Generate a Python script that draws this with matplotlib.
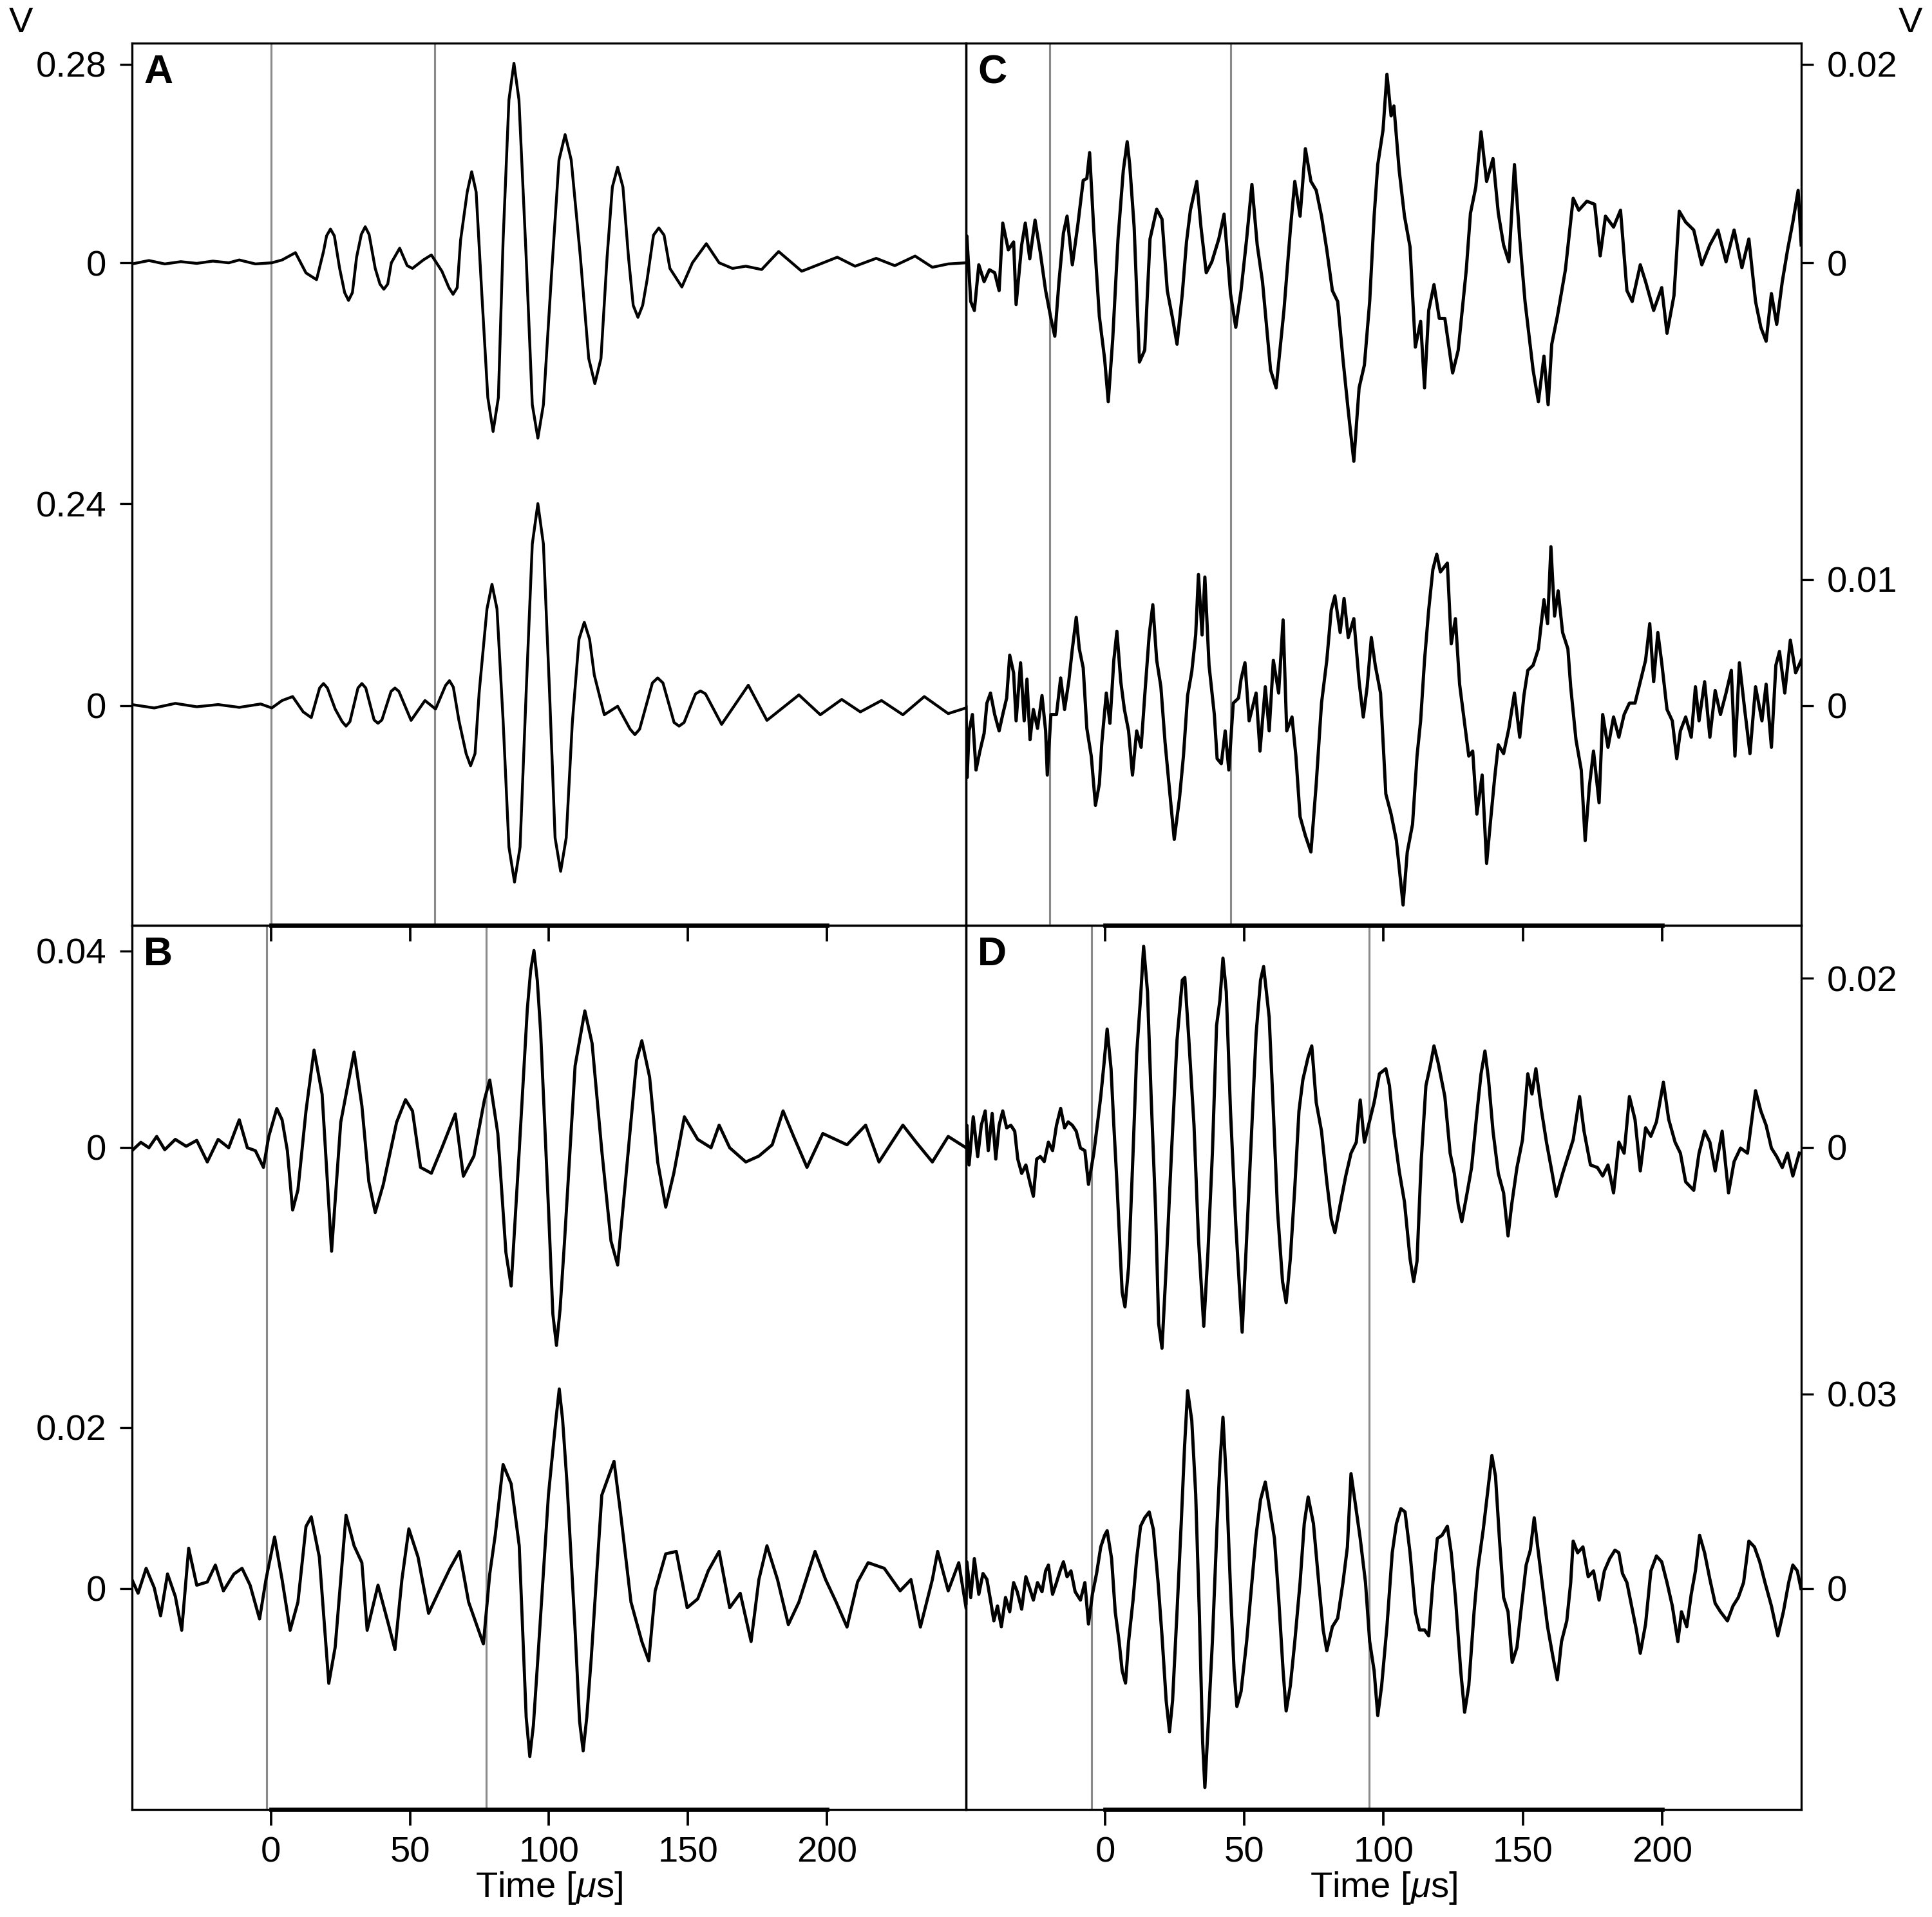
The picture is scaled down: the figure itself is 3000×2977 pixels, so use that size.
import numpy as np
import matplotlib.pyplot as plt

plt.rcParams['font.family'] = ['Liberation Sans', 'DejaVu Sans']
plt.rcParams['mathtext.fontset'] = 'custom'
plt.rcParams['mathtext.rm'] = 'Liberation Sans'
plt.rcParams['mathtext.it'] = 'Liberation Sans:italic'

# traces as (time [us], signal [V])
a_top = [(-50, -0.0016), (-43.9, 0.0032), (-38.2, -0.0016), (-32.4, 0.0016), (-26.7, -0.0008), (-20.9, 0.0024),
         (-15.2, 0.0), (-11.4, 0.004), (-5.6, -0.0016), (0.3, 0.0), (4.0, 0.004), (8.8, 0.0143), (12.6, -0.0143),
         (16.4, -0.0238), (18.9, 0.0159), (20.0, 0.038), (21.4, 0.0476), (22.8, 0.038), (24.7, -0.0079),
         (26.5, -0.042), (27.9, -0.0531), (29.3, -0.042), (30.8, 0.0079), (32.5, 0.04), (33.9, 0.0508),
         (35.3, 0.04), (37.5, -0.0079), (39.2, -0.03), (40.6, -0.0373), (42.0, -0.03), (43.3, 0.0),
         (46.3, 0.0206), (49.0, -0.004), (50.9, -0.0079), (54.8, 0.004), (57.7, 0.0111), (61.5, -0.0119),
         (64.0, -0.035), (65.5, -0.0444), (67.0, -0.035), (68.2, 0.0317), (70.6, 0.10), (72.2, 0.1285),
         (73.8, 0.10), (75.9, -0.0476), (78.0, -0.19), (79.9, -0.2379), (81.8, -0.19), (83.5, 0.0317),
         (85.6, 0.23), (87.4, 0.2815), (89.2, 0.23), (91.8, 0.0079), (94.0, -0.20), (96.0, -0.2474),
         (98.0, -0.20), (100.8, -0.0238), (103.6, 0.145), (105.8, 0.1808), (108.0, 0.145), (111.3, 0.0079),
         (114.3, -0.135), (116.5, -0.1705), (118.7, -0.135), (120.9, 0.0079), (122.8, 0.107), (124.7, 0.1348),
         (126.6, 0.107), (128.6, 0.0079), (130.3, -0.06), (132.0, -0.0769), (133.7, -0.06), (135.3, -0.0238),
         (137.6, 0.039), (139.5, 0.0492), (141.4, 0.039), (143.5, -0.0079), (147.8, -0.0341), (151.6, 0.0),
         (156.6, 0.027), (161.2, 0.0), (166.0, -0.0079), (170.8, -0.0048), (176.5, -0.0095), (182.6, 0.0159),
         (190.9, -0.0119), (197.6, -0.0016), (203.7, 0.0079), (210.1, -0.0048), (217.7, 0.0063), (224.4, -0.004),
         (231.7, 0.0095), (237.9, -0.0063), (243.6, -0.0016), (250, 0.0)]

a_bot = [(-50, 0.0013), (-42.0, -0.0027), (-34.4, 0.0027), (-26.7, -0.0013), (-19.0, 0.0013), (-11.4, -0.002),
         (-3.7, 0.002), (0.3, -0.0027), (4.0, 0.0061), (7.8, 0.0108), (11.6, -0.0074), (14.5, -0.0142),
         (17.5, 0.021), (18.9, 0.0263), (20.3, 0.021), (23.1, -0.004), (25.6, -0.019), (27.0, -0.0243),
         (28.4, -0.019), (31.3, 0.021), (32.7, 0.0263), (34.1, 0.021), (37.1, -0.017), (38.5, -0.0209),
         (39.9, -0.017), (43.2, 0.017), (44.6, 0.0209), (46.0, 0.017), (50.4, -0.0175), (55.4, 0.0061),
         (59.2, -0.004), (62.8, 0.024), (64.2, 0.0297), (65.6, 0.022), (67.6, -0.0175), (70.2, -0.057),
         (71.8, -0.0714), (73.4, -0.057), (74.9, 0.0162), (77.7, 0.115), (79.5, 0.1442), (81.3, 0.115),
         (83.5, -0.0175), (85.6, -0.168), (87.6, -0.2096), (89.6, -0.168), (91.8, 0.0162), (94.0, 0.192),
         (96.0, 0.24), (98.0, 0.192), (100.2, 0.0162), (102.2, -0.157), (104.2, -0.1968), (106.2, -0.157),
         (108.4, -0.02), (110.8, 0.079), (112.7, 0.0991), (114.6, 0.079), (116.3, 0.0364), (119.9, -0.0108),
         (124.7, -0.0007), (129.2, -0.028), (130.9, -0.0344), (132.6, -0.028), (137.2, 0.027), (139.1, 0.033),
         (141.0, 0.027), (145.0, -0.02), (146.8, -0.0243), (148.6, -0.02), (152.7, 0.014), (154.5, 0.0175),
         (156.3, 0.014), (162.1, -0.0222), (171.7, 0.0243), (178.4, -0.0175), (189.9, 0.0128), (197.6, -0.0108),
         (205.3, 0.0074), (212.0, -0.0074), (219.6, 0.0061), (227.3, -0.0108), (235.0, 0.0108), (243.6, -0.0094),
         (250, -0.0027)]

b_top = [(-50, -0.0007), (-46.8, 0.001), (-43.9, -0.0001), (-41.1, 0.0022), (-38.2, -0.0005), (-34.4, 0.0016),
         (-30.5, 0.0002), (-26.7, 0.0014), (-22.9, -0.003), (-19.0, 0.0016), (-15.2, -0.0001), (-11.4, 0.0056),
         (-8.5, -0.0001), (-5.6, -0.0007), (-2.7, -0.0041), (-0.8, 0.0022), (2.1, 0.0079), (4.0, 0.0056),
         (5.9, -0.0007), (7.8, -0.0128), (9.7, -0.0087), (12.6, 0.0074), (15.5, 0.0198), (18.4, 0.0108),
         (21.8, -0.0212), (25.1, 0.0051), (29.9, 0.0194), (32.7, 0.0085), (35.2, -0.007), (37.5, -0.0133),
         (40.4, -0.0076), (45.2, 0.0051), (48.4, 0.0097), (50.9, 0.0074), (53.8, -0.0041), (57.7, -0.0053),
         (61.5, -0.0001), (66.3, 0.0068), (69.2, -0.0059), (73.0, -0.0018), (76.8, 0.0097), (78.7, 0.0137),
         (81.6, 0.0028), (84.5, -0.0214), (86.4, -0.0283), (89.3, -0.0007), (92.2, 0.0281), (93.4, 0.036),
         (94.6, 0.0401), (95.8, 0.034), (97.0, 0.0235), (99.8, -0.0122), (101.4, -0.034), (102.7, -0.0404),
         (104.0, -0.033), (105.6, -0.0191), (109.4, 0.0166), (112.9, 0.0278), (115.5, 0.0212), (119.0, -0.0007),
         (122.3, -0.0191), (124.7, -0.024), (127.6, -0.0064), (131.5, 0.0177), (133.4, 0.0217), (136.2, 0.0143),
         (139.1, -0.003), (142.0, -0.0122), (144.9, -0.0053), (148.7, 0.0062), (153.5, 0.0016), (158.3, -0.0001),
         (161.2, 0.0045), (165.0, -0.0001), (170.8, -0.003), (175.5, -0.0018), (180.3, 0.0005), (184.2, 0.0074),
         (188.0, 0.0022), (192.8, -0.0041), (198.5, 0.0028), (207.2, 0.0005), (213.9, 0.0045), (218.7, -0.003),
         (227.3, 0.0045), (232.1, 0.001), (237.9, -0.003), (243.6, 0.0022), (250, -0.0001)]

b_bot = [(-50, 0.0011), (-47.8, -0.0006), (-44.9, 0.0025), (-42.0, 0.0001), (-39.7, -0.0034), (-37.2, 0.0018),
         (-34.4, -0.001), (-32.1, -0.0052), (-29.6, 0.005), (-26.7, 0.0004), (-22.9, 0.0008), (-20.0, 0.0029),
         (-17.1, -0.0003), (-13.3, 0.0018), (-10.4, 0.0025), (-7.5, 0.0004), (-4.1, -0.0038), (-1.8, 0.0011),
         (1.3, 0.0064), (4.0, 0.0011), (6.9, -0.0052), (9.7, -0.0017), (12.6, 0.0077), (14.5, 0.0089),
         (17.4, 0.0039), (20.8, -0.0118), (23.1, -0.0073), (27.0, 0.0091), (29.9, 0.0053), (32.7, 0.0032),
         (34.6, -0.0052), (38.5, 0.0004), (42.3, -0.0045), (44.6, -0.0076), (47.1, 0.0011), (49.6, 0.0074),
         (52.9, 0.0039), (56.7, -0.0031), (60.5, -0.0003), (64.4, 0.0025), (67.8, 0.0046), (71.1, -0.0017),
         (76.4, -0.0069), (78.7, 0.0018), (80.7, 0.0067), (83.5, 0.0154), (86.4, 0.013), (89.3, 0.0053),
         (91.8, -0.016), (93.1, -0.0209), (94.4, -0.017), (96.0, -0.0087), (99.8, 0.0116), (102.5, 0.021),
         (103.7, 0.0248), (104.9, 0.021), (106.5, 0.013), (109.4, -0.0052), (111.0, -0.0165), (112.3, -0.0202),
         (113.6, -0.016), (115.2, -0.0087), (119.0, 0.0116), (123.4, 0.0158), (125.7, 0.0095), (129.5, -0.0017),
         (133.4, -0.0066), (135.9, -0.009), (138.2, -0.0003), (142.0, 0.0043), (145.8, 0.0046), (149.7, -0.0024),
         (153.5, -0.0013), (157.3, 0.0022), (161.2, 0.0046), (165.0, -0.0024), (168.8, -0.0006), (172.7, -0.0066),
         (175.5, 0.0011), (178.4, 0.0053), (182.2, 0.0011), (186.1, -0.0045), (189.9, -0.0017), (195.7, 0.0046),
         (199.5, 0.0011), (203.3, -0.0017), (207.2, -0.0048), (211.0, 0.0008), (214.8, 0.0032), (220.6, 0.0025),
         (226.3, -0.0003), (230.2, 0.0011), (233.6, -0.0048), (237.9, 0.0011), (239.8, 0.0046), (243.6, -0.0003),
         (247.4, 0.0032), (250, -0.0024)]

c_top = [(-50, 0.0001), (-49.7, 0.0027), (-48.3, -0.0039), (-47.0, -0.0048), (-45.4, -0.0002), (-43.5, -0.0019),
         (-41.6, -0.0007), (-39.7, -0.001), (-38.1, -0.0028), (-36.8, 0.004), (-34.8, 0.0013), (-32.9, 0.0021),
         (-32.0, -0.0042), (-30.0, 0.0018), (-28.7, 0.004), (-27.1, 0.0004), (-25.2, 0.0043), (-23.3, 0.001),
         (-21.4, -0.0028), (-19.5, -0.0056), (-18.1, -0.0074), (-16.6, -0.0019), (-15.0, 0.003), (-13.7, 0.0047),
         (-11.8, -0.0002), (-9.8, 0.0039), (-7.9, 0.0083), (-6.6, 0.0085), (-5.6, 0.0111), (-4.1, 0.0033),
         (-2.1, -0.0054), (-0.2, -0.0097), (1.1, -0.014), (2.7, -0.0077), (4.6, 0.0024), (6.5, 0.0093),
         (7.9, 0.0122), (8.8, 0.0099), (10.4, 0.0036), (12.3, -0.01), (14.2, -0.0088), (16.1, 0.0024),
         (18.5, 0.0054), (20.4, 0.0044), (22.3, -0.0028), (24.2, -0.0056), (25.8, -0.0082), (27.7, -0.0031),
         (29.2, 0.0021), (30.6, 0.0053), (32.9, 0.0082), (34.4, 0.0036), (36.3, -0.001), (38.3, 0.0001),
         (40.8, 0.0024), (42.7, 0.0049), (45.0, -0.0031), (46.9, -0.0065), (48.8, -0.0028), (50.8, 0.0024),
         (52.7, 0.0079), (54.6, 0.0018), (56.5, -0.0019), (59.4, -0.0108), (61.4, -0.0126), (64.2, -0.0048),
         (66.5, 0.0033), (68.1, 0.0082), (70.0, 0.0047), (71.9, 0.0115), (73.9, 0.0082), (75.8, 0.0073),
         (77.7, 0.0047), (79.6, 0.0013), (81.6, -0.0028), (83.5, -0.0039), (85.4, -0.0097), (87.3, -0.0149),
         (89.3, -0.02), (91.2, -0.0126), (93.1, -0.0103), (95.0, -0.0039), (96.6, 0.0047), (97.9, 0.0099),
         (99.8, 0.0134), (101.2, 0.019), (102.7, 0.0148), (103.7, 0.0158), (105.6, 0.0093), (107.5, 0.0047),
         (109.5, 0.0016), (111.4, -0.0085), (113.3, -0.0059), (114.7, -0.0126), (116.2, -0.0048), (118.1, -0.0022),
         (120.0, -0.0056), (122.0, -0.0056), (124.8, -0.0111), (126.8, -0.0088), (129.7, -0.0007), (131.2, 0.005),
         (133.1, 0.0076), (135.0, 0.0132), (137.0, 0.0082), (139.3, 0.0105), (141.2, 0.005), (143.1, 0.0018),
         (145.0, 0.0001), (147.0, 0.0099), (148.9, 0.0024), (150.8, -0.0039), (153.7, -0.0108), (155.6, -0.014),
         (157.6, -0.0094), (159.1, -0.0143), (160.4, -0.0082), (162.4, -0.0054), (165.3, -0.0007), (168.1, 0.0065),
         (170.1, 0.0053), (173.0, 0.0062), (175.8, 0.0059), (177.8, 0.0007), (179.7, 0.0047), (182.6, 0.0036),
         (185.1, 0.0053), (187.4, -0.0028), (189.3, -0.0039), (192.2, -0.0002), (194.1, -0.0019), (197.0, -0.0048),
         (199.9, -0.0025), (201.8, -0.0071), (204.3, -0.0033), (206.2, 0.0052), (208.5, 0.0041), (211.4, 0.0033),
         (214.3, -0.0002), (217.2, 0.0018), (220.1, 0.0033), (223.0, 0.0001), (225.9, 0.0033), (228.7, -0.0005),
         (231.2, 0.0024), (233.6, -0.0039), (235.5, -0.0065), (237.4, -0.0079), (239.3, -0.0031), (241.2, -0.0062),
         (243.2, -0.0019), (245.1, 0.0013), (247.0, 0.0041), (248.9, 0.0073), (250, 0.0018)]

c_bot = [(-50, -0.0001), (-49.6, -0.0057), (-48.9, -0.002), (-47.7, -0.0007), (-46.4, -0.0051), (-45.0, -0.0036),
         (-43.5, -0.0022), (-42.5, 0.0002), (-41.2, 0.001), (-39.7, -0.0007), (-38.1, -0.002), (-36.8, -0.0007),
         (-35.4, 0.0006), (-34.3, 0.004), (-32.9, 0.0026), (-32.0, -0.0012), (-30.4, 0.0034), (-29.1, -0.0012),
         (-28.1, 0.0021), (-27.0, -0.0027), (-25.8, -0.0003), (-24.3, -0.0018), (-22.7, 0.0008), (-21.4, -0.002),
         (-20.8, -0.0055), (-19.5, -0.0007), (-17.5, -0.0007), (-16.0, 0.0022), (-14.6, -0.0003), (-13.1, 0.0019),
         (-11.8, 0.0045), (-10.4, 0.007), (-9.3, 0.0045), (-7.9, 0.003), (-6.6, -0.0018), (-5.0, -0.004),
         (-3.5, -0.0079), (-2.1, -0.0062), (-1.2, -0.0029), (0.4, 0.001), (1.7, -0.0014), (3.1, 0.0036),
         (4.2, 0.0059), (5.6, 0.0019), (6.9, -0.0003), (8.4, -0.002), (9.8, -0.0055), (11.3, -0.002),
         (12.9, -0.0033), (14.2, 0.0008), (15.8, 0.0056), (17.1, 0.008), (18.5, 0.0036), (20.0, 0.0015),
         (21.5, -0.0029), (22.9, -0.0062), (24.8, -0.0106), (26.7, -0.0073), (28.1, -0.004), (29.6, 0.0008),
         (31.1, 0.0027), (32.5, 0.0056), (33.5, 0.0104), (34.8, 0.0056), (35.8, 0.0102), (37.3, 0.0032),
         (39.2, -0.0007), (40.2, -0.0042), (41.7, -0.0046), (43.1, -0.002), (44.4, -0.0051), (46.0, 0.0002),
         (47.9, 0.0006), (48.8, 0.0021), (50.2, 0.0034), (51.7, -0.0012), (54.2, 0.001), (55.6, -0.0036),
         (57.5, 0.0015), (58.9, -0.002), (60.4, 0.0036), (62.3, 0.001), (63.9, 0.0068), (65.2, -0.002),
         (67.1, -0.0009), (68.5, -0.004), (70.0, -0.0088), (71.9, -0.0103), (73.9, -0.0116), (75.8, -0.0062),
         (77.7, 0.0002), (79.6, 0.0036), (81.2, 0.0076), (82.5, 0.0087), (84.4, 0.0058), (85.8, 0.0085),
         (87.3, 0.0054), (89.3, 0.0069), (91.2, 0.0019), (92.7, -0.0009), (94.1, 0.0015), (95.6, 0.0054),
         (97.0, 0.0032), (98.9, 0.001), (100.8, -0.007), (102.7, -0.0086), (104.6, -0.0107), (107.0, -0.0158),
         (108.5, -0.0116), (110.4, -0.0094), (112.0, -0.004), (113.3, -0.0012), (114.7, 0.0036), (116.2, 0.0076),
         (117.7, 0.0108), (119.1, 0.012), (120.4, 0.0106), (122.9, 0.0113), (124.3, 0.0049), (125.8, 0.0069),
         (127.3, 0.0017), (128.7, -0.0007), (130.6, -0.004), (132.0, -0.0036), (133.5, -0.0086), (135.4, -0.0055),
         (137.0, -0.0125), (138.3, -0.0094), (139.9, -0.0057), (141.2, -0.0031), (143.1, -0.0038), (145.0, -0.0018),
         (147.0, 0.001), (148.9, -0.0025), (150.4, 0.0008), (151.8, 0.0028), (153.7, 0.0032), (155.6, 0.0045),
         (157.6, 0.0084), (158.9, 0.0065), (160.1, 0.0126), (161.4, 0.0071), (162.7, 0.0091), (164.3, 0.0058),
         (166.2, 0.0045), (167.2, 0.0015), (169.1, -0.0027), (171.0, -0.0051), (172.4, -0.0107), (173.9, -0.0064),
         (175.4, -0.0036), (177.4, -0.0077), (178.7, -0.0007), (180.6, -0.0033), (182.6, -0.0009), (184.5, -0.0025),
         (186.4, -0.0007), (188.3, 0.0002), (190.3, 0.0002), (192.2, 0.0019), (194.1, 0.0036), (195.6, 0.0065),
         (197.0, 0.0019), (198.5, 0.0058), (199.9, 0.0034), (201.8, -0.0003), (203.7, -0.0012), (205.3, -0.0042),
         (206.6, -0.002), (208.5, -0.0009), (210.5, -0.0025), (212.0, 0.0015), (213.3, -0.0012), (215.3, 0.0019),
         (217.2, -0.0025), (219.1, 0.0012), (221.0, -0.0007), (223.0, 0.001), (224.9, 0.0028), (226.2, -0.004),
         (227.8, 0.0034), (229.7, -0.0003), (231.6, -0.0038), (233.6, 0.0015), (235.9, -0.0012), (237.4, 0.0017),
         (239.3, -0.0033), (240.9, 0.0032), (242.2, 0.0043), (244.1, 0.001), (246.1, 0.0052), (248.0, 0.0026),
         (250, 0.0036)]

d_top = [(-50, 0.0003), (-49.7, 0.0026), (-48.9, -0.0021), (-47.4, 0.0036), (-45.8, -0.0011), (-44.5, 0.0026),
         (-43.1, 0.0043), (-42.0, -0.0004), (-40.6, 0.004), (-39.3, -0.0014), (-38.1, 0.0026), (-36.8, 0.0043),
         (-35.4, 0.0023), (-33.9, 0.0026), (-32.5, 0.0019), (-31.4, -0.0014), (-30.0, -0.0031), (-28.5, -0.0021),
         (-27.1, -0.0041), (-25.8, -0.0058), (-24.6, -0.0014), (-23.3, -0.0011), (-21.9, -0.0017), (-20.4, 0.0006),
         (-18.9, -0.0004), (-17.5, 0.0026), (-16.0, 0.0046), (-14.6, 0.0023), (-13.3, 0.003), (-11.8, 0.0026),
         (-10.4, 0.0019), (-8.9, -0.0001), (-7.3, -0.0004), (-6.0, -0.0044), (-4.1, -0.0007), (-2.7, 0.003),
         (-1.6, 0.006), (-0.4, 0.01), (0.7, 0.014), (2.1, 0.0093), (3.1, 0.0026), (4.2, -0.0041), (5.4, -0.0125),
         (6.1, -0.0172), (7.1, -0.0189), (8.4, -0.0142), (10.0, -0.0007), (11.3, 0.011), (12.7, 0.0177),
         (13.8, 0.0238), (15.2, 0.0184), (16.5, 0.006), (18.1, -0.0075), (19.2, -0.0209), (20.4, -0.0238),
         (21.9, -0.0142), (23.8, -0.0007), (25.8, 0.0127), (27.7, 0.0198), (28.6, 0.0201), (30.0, 0.013),
         (31.9, 0.0026), (33.5, -0.0108), (35.4, -0.0212), (36.9, -0.0125), (38.5, -0.0007), (40.0, 0.0144),
         (41.2, 0.0174), (42.3, 0.0224), (43.5, 0.0184), (45.0, 0.0043), (46.9, -0.0091), (48.1, -0.0159),
         (49.2, -0.0219), (50.8, -0.0108), (52.7, 0.0026), (54.2, 0.0134), (55.8, 0.0198), (56.9, 0.0214),
         (58.9, 0.0154), (60.4, 0.0043), (61.9, -0.0075), (63.7, -0.0159), (65.0, -0.0184), (66.5, -0.0132),
         (68.1, -0.0048), (69.6, 0.0043), (71.0, 0.008), (72.9, 0.0107), (74.2, 0.012), (75.8, 0.0053),
         (77.7, 0.0019), (79.6, -0.0041), (81.2, -0.0085), (82.5, -0.0101), (84.4, -0.0068), (86.4, -0.0034),
         (88.3, -0.0007), (90.2, 0.0006), (91.6, 0.0056), (93.1, 0.0006), (94.6, 0.0026), (96.6, 0.0053),
         (98.5, 0.0087), (100.8, 0.0093), (102.1, 0.0073), (103.7, 0.0019), (105.6, -0.0028), (107.5, -0.0065),
         (109.5, -0.0132), (110.8, -0.0159), (112.0, -0.0135), (113.5, -0.0017), (115.2, 0.0073), (116.8, 0.0097),
         (118.1, 0.012), (119.6, 0.01), (122.0, 0.006), (123.9, -0.0007), (125.4, -0.0031), (126.8, -0.0068),
         (128.1, -0.0088), (130.0, -0.0054), (131.6, -0.0024), (133.5, 0.004), (135.0, 0.0087), (136.4, 0.0114),
         (137.7, 0.008), (139.3, 0.0019), (141.2, -0.0031), (143.1, -0.0054), (144.7, -0.0105), (146.0, -0.0068),
         (147.9, -0.0024), (149.9, 0.0009), (151.8, 0.0087), (153.3, 0.0063), (154.7, 0.0093), (156.6, 0.0046),
         (158.5, 0.0006), (160.4, -0.0028), (162.0, -0.0058), (164.3, -0.0031), (166.2, -0.0011), (168.1, 0.0009),
         (170.4, 0.006), (172.0, 0.0019), (174.3, -0.0021), (176.8, -0.0024), (178.7, -0.0034), (180.6, -0.0021),
         (182.6, -0.0054), (184.5, 0.0006), (186.4, -0.0007), (188.3, 0.006), (190.3, 0.0033), (192.2, -0.0028),
         (194.1, 0.0023), (196.0, 0.0013), (198.0, 0.003), (200.5, 0.0077), (202.4, 0.0033), (204.7, 0.0006),
         (206.6, -0.0007), (208.5, -0.0041), (211.4, -0.0051), (213.3, -0.0007), (215.3, 0.0019), (217.2, 0.0006),
         (219.1, -0.0028), (221.6, 0.0019), (223.9, -0.0054), (225.9, -0.0017), (228.2, -0.0001), (230.7, -0.0007),
         (233.6, 0.0067), (235.5, 0.0043), (237.4, 0.0026), (239.3, -0.0001), (241.2, -0.0011), (243.2, -0.0024),
         (245.1, -0.0007), (247.0, -0.0034), (249.3, -0.0007)]

d_bot = [(-50, -0.0023), (-49.7, 0.0041), (-48.3, -0.0014), (-47.0, 0.0046), (-45.4, -0.0009), (-43.9, 0.0023),
         (-42.5, 0.0014), (-41.2, -0.0018), (-40.0, -0.005), (-38.7, -0.0027), (-37.3, -0.0059), (-35.8, -0.0014),
         (-34.3, -0.0036), (-32.9, 0.0009), (-31.6, -0.0005), (-30.0, -0.0032), (-28.5, 0.0018), (-27.1, 0.0),
         (-25.8, -0.0018), (-24.3, 0.0009), (-22.7, -0.0005), (-21.4, 0.0027), (-20.4, 0.0036), (-18.9, -0.0009),
         (-17.5, 0.0009), (-16.2, 0.0027), (-15.0, 0.0041), (-13.7, 0.0018), (-12.3, 0.0027), (-10.8, -0.0005),
         (-8.9, -0.0018), (-7.3, 0.0009), (-6.0, -0.0055), (-4.6, -0.0009), (-3.1, 0.0023), (-1.6, 0.0064),
         (-0.2, 0.0082), (0.7, 0.0089), (2.3, 0.0046), (3.6, -0.0036), (5.0, -0.0082), (6.1, -0.0127),
         (7.3, -0.0146), (8.4, -0.0082), (10.0, -0.0018), (11.3, 0.0046), (12.7, 0.0096), (14.2, 0.0109),
         (15.8, 0.0118), (17.3, 0.0091), (19.0, 0.0009), (20.4, -0.0073), (21.9, -0.0173), (23.1, -0.0221),
         (24.2, -0.0173), (25.8, -0.0036), (27.3, 0.01), (28.5, 0.0218), (29.6, 0.0305), (31.1, 0.0259),
         (32.5, 0.0146), (33.8, -0.0036), (35.0, -0.0237), (35.8, -0.0307), (36.9, -0.0218), (38.5, -0.0082),
         (40.2, 0.01), (41.2, 0.0191), (42.3, 0.0264), (43.5, 0.0168), (45.0, 0.0), (46.3, -0.0127),
         (47.3, -0.0182), (48.8, -0.0159), (50.8, -0.0082), (52.7, 0.0009), (54.2, 0.0082), (55.8, 0.0137),
         (57.5, 0.0164), (58.9, 0.0127), (60.8, 0.0077), (62.3, -0.0014), (63.9, -0.0127), (65.0, -0.0189),
         (66.5, -0.015), (68.1, -0.0082), (70.0, 0.0009), (71.5, 0.01), (72.9, 0.0141), (74.8, 0.01),
         (76.7, 0.0009), (78.3, -0.0064), (79.6, -0.0096), (81.6, -0.0059), (83.5, -0.0046), (85.4, 0.0009),
         (87.0, 0.0064), (88.3, 0.0177), (89.8, 0.0132), (91.6, 0.0077), (93.5, 0.0009), (95.0, -0.0082),
         (96.6, -0.0127), (97.9, -0.0196), (99.3, -0.015), (101.2, -0.0059), (103.1, 0.0055), (104.6, 0.01),
         (106.2, 0.0123), (107.7, 0.0118), (109.5, 0.0055), (111.4, -0.0036), (112.9, -0.0064), (114.7, -0.0064),
         (116.2, -0.0073), (117.7, 0.0009), (119.3, 0.0077), (121.0, 0.0082), (122.9, 0.0096), (124.3, 0.0055),
         (125.8, -0.0014), (127.7, -0.0127), (129.1, -0.0191), (130.6, -0.015), (132.5, -0.0036), (133.9, 0.0032),
         (135.8, 0.0091), (137.4, 0.015), (138.9, 0.0205), (140.2, 0.0173), (141.6, 0.0077), (143.1, -0.0014),
         (144.7, -0.0036), (146.2, -0.0114), (147.9, -0.0091), (149.3, -0.0036), (151.2, 0.0036), (152.7, 0.0059),
         (154.1, 0.0109), (155.6, 0.0055), (157.6, -0.0014), (158.9, -0.0059), (160.8, -0.0105), (162.4, -0.0141),
         (163.9, -0.0082), (165.8, -0.005), (167.2, 0.0009), (168.1, 0.0073), (169.7, 0.0055), (171.6, 0.0064),
         (173.5, 0.0018), (175.4, 0.0027), (177.4, -0.0018), (179.3, 0.0027), (181.2, 0.0046), (183.1, 0.0059),
         (184.5, 0.0055), (185.8, 0.0023), (187.4, 0.0009), (188.9, -0.0023), (190.8, -0.0064), (192.2, -0.01),
         (194.1, -0.0055), (196.0, 0.0027), (198.0, 0.005), (199.9, 0.0041), (201.8, 0.0009), (203.7, -0.0027),
         (205.7, -0.0082), (207.0, -0.0036), (208.9, -0.0059), (210.5, -0.0009), (212.0, 0.0027), (213.5, 0.0082),
         (215.3, 0.0055), (217.2, 0.0014), (219.1, -0.0023), (221.0, -0.0036), (223.5, -0.005), (225.5, -0.0027),
         (227.4, -0.0014), (229.3, 0.0009), (231.2, 0.0073), (233.2, 0.0064), (235.1, 0.0041), (237.0, 0.0009),
         (239.3, -0.0027), (241.6, -0.0073), (243.6, -0.0036), (245.5, 0.0009), (247.0, 0.0036), (248.6, 0.0027),
         (249.9, 0.0)]

# amplitude tick on each trace (value, label)
tick_a = [(0.28, '0.28'), (0.24, '0.24')]
tick_b = [(0.04, '0.04'), (0.02, '0.02')]
tick_c = [(0.02, '0.02'), (0.01, '0.01')]
tick_d = [(0.02, '0.02'), (0.03, '0.03')]

# grey marker lines (us)
marks_a = [0, 59]
marks_b = [-1.5, 77.4]
marks_c = [-20, 45]
marks_d = [-5, 94.7]

x_ticks = [0, 50, 100, 150, 200]


def stack_lims(zero_frac, tick_val, tick_frac):
    # ylim so that 0 and tick_val land at the given fractions of the axes height
    span = tick_val / (tick_frac - zero_frac)
    lo = -zero_frac * span
    return lo, lo + span


fig = plt.figure(figsize=(10, 2977 / 300), dpi=300)

FS = 13.5


def draw_panel(rect, traces, ticks, marks, letter, side, bottom_labels, layout, z, lw):
    ax = fig.add_axes(rect, zorder=z)
    ax2 = fig.add_axes(rect, zorder=z + 0.5)
    for a in (ax, ax2):
        a.patch.set_visible(False)
        a.set_xlim(-50, 250)
    for s in ax2.spines.values():
        s.set_visible(False)
    ax2.set_xticks([])

    for m in marks:
        ax.axvline(m, color='#8a8a8a', lw=0.75, zorder=1)

    for a, tr, (tv, tl), (zf, tf) in zip([ax, ax2], traces, ticks, layout):
        arr = np.array(sorted(tr))
        a.plot(arr[:, 0], arr[:, 1], color='black', lw=lw, zorder=3)
        a.set_ylim(*stack_lims(zf, tv, tf))
        a.set_yticks([0, tv])
        a.set_yticklabels(['0', tl])
        if side == 'left':
            a.yaxis.tick_left()
        else:
            a.yaxis.tick_right()
        a.tick_params(axis='y', length=4.5, width=0.8, pad=5, labelsize=FS)

    # full thin frame, plus the heavier 0-200 axis segment at the bottom
    for s in ['top', 'left', 'right']:
        ax.spines[s].set_linewidth(0.8)
    ax.spines['bottom'].set_bounds(0, 200)
    ax.spines['bottom'].set_linewidth(1.6)
    ax.plot([0, 1], [0, 0], transform=ax.transAxes, color='black', lw=0.8, clip_on=False, zorder=5)

    ax.set_xticks(x_ticks)
    ax.xaxis.set_ticks_position('bottom')
    ax.tick_params(axis='x', direction='out', length=6, width=0.9, pad=4, labelsize=FS,
                   bottom=True, labelbottom=bottom_labels)
    if bottom_labels:
        ax.set_xlabel('Time [$\\mu$s]', fontsize=FS, labelpad=0)

    ax.text(0.014, 0.988, letter, transform=ax.transAxes, fontsize=15, fontweight='bold',
            ha='left', va='top', zorder=6)
    return ax


draw_panel([0.0683, 0.5173, 0.4317, 0.4602], [a_top, a_bot], tick_a, marks_a, 'A', 'left', False,
           [(0.751, 0.976), (0.249, 0.478)], 3, 1.05)
draw_panel([0.0683, 0.0561, 0.4317, 0.4612], [b_top, b_bot], tick_b, marks_b, 'B', 'left', True,
           [(0.749, 0.971), (0.250, 0.432)], 1, 1.15)
draw_panel([0.5, 0.5173, 0.4323, 0.4602], [c_top, c_bot], tick_c, marks_c, 'C', 'right', False,
           [(0.751, 0.976), (0.249, 0.392)], 3, 1.2)
draw_panel([0.5, 0.0561, 0.4323, 0.4612], [d_top, d_bot], tick_d, marks_d, 'D', 'right', True,
           [(0.749, 0.940), (0.250, 0.470)], 1, 1.2)

fig.text(0.0107, 0.988, 'V', ha='center', va='center', fontsize=FS)
fig.text(0.989, 0.988, 'V', ha='center', va='center', fontsize=FS)

fig.savefig('out.png', dpi=300, facecolor='white')
